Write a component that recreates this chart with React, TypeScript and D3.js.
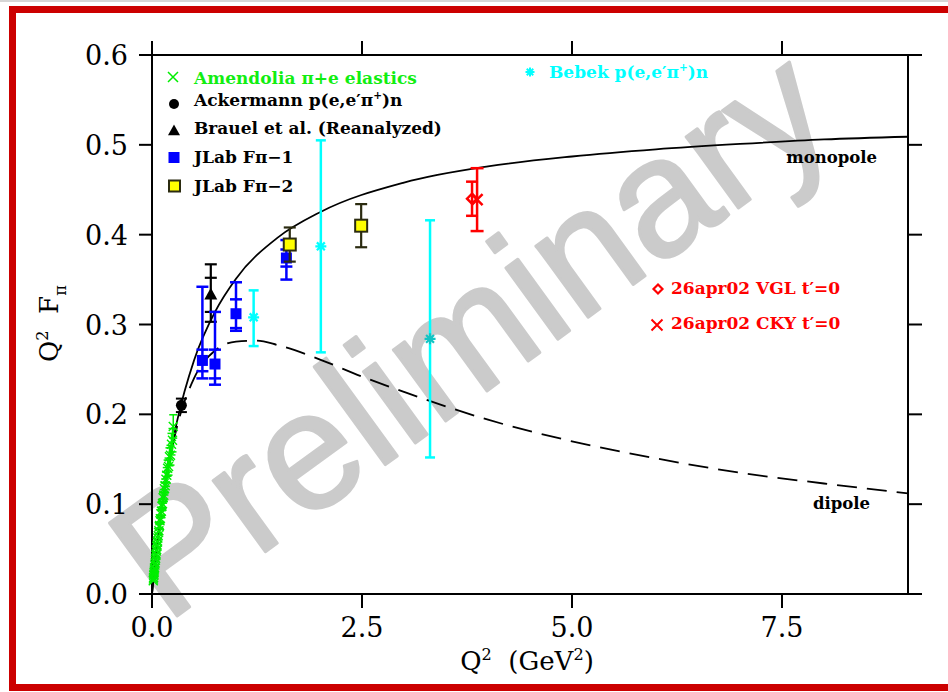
import React, { useRef, useEffect } from "react";
import * as d3 from "d3";

/* model curves */
const monopoleQ2 = [0, 0.05, 0.1, 0.2, 0.3, 0.5, 0.75, 1.0, 1.5, 2.0, 3.0, 4.0, 5.0, 6.0, 7.0, 8.0, 9.0];
const monopoleVal = [0, 0.046, 0.084, 0.146, 0.193, 0.26, 0.314, 0.351, 0.397, 0.425, 0.458, 0.476, 0.487, 0.495, 0.501, 0.506, 0.509];
const dipoleQ2 = [0, 0.05, 0.1, 0.2, 0.3, 0.5, 0.75, 1.0, 1.25, 1.5, 2.0, 2.5, 3.0, 4.0, 5.0, 6.0, 7.0, 8.0, 9.0];
const dipoleVal = [0, 0.046, 0.084, 0.144, 0.187, 0.24, 0.271, 0.281, 0.282, 0.277, 0.261, 0.242, 0.225, 0.194, 0.17, 0.151, 0.135, 0.123, 0.112];

/* Amendolia pi+e elastics */
const amendoliaQ2 = [
  0.015, 0.017, 0.019, 0.021, 0.023, 0.025, 0.027, 0.029, 0.031, 0.034,
  0.037, 0.04, 0.043, 0.046, 0.049, 0.052, 0.055, 0.058, 0.061, 0.064,
  0.067, 0.07, 0.074, 0.078, 0.082, 0.086, 0.09, 0.095, 0.1, 0.106,
  0.112, 0.118, 0.125, 0.132, 0.14, 0.148, 0.157, 0.166, 0.176, 0.186,
  0.197, 0.208, 0.22, 0.232, 0.244, 0.253,
];
const amendoliaVal = [
  0.0147, 0.0166, 0.0183, 0.0205, 0.0219, 0.024, 0.0256, 0.0279, 0.0291, 0.0322,
  0.0345, 0.0376, 0.0397, 0.0428, 0.0446, 0.0478, 0.0495, 0.0528, 0.0546, 0.0577,
  0.0591, 0.0624, 0.0649, 0.0686, 0.0705, 0.0748, 0.0762, 0.0815, 0.0838, 0.0893,
  0.0921, 0.0978, 0.1004, 0.1071, 0.1098, 0.1172, 0.1205, 0.1278, 0.1322, 0.1401,
  0.1418, 0.1527, 0.1545, 0.1668, 0.1712, 0.1865,
];
const amendoliaErr = [
  0.0006, 0.0006, 0.0007, 0.0007, 0.0008, 0.0008, 0.0009, 0.0009, 0.001, 0.001,
  0.0011, 0.0012, 0.0013, 0.0014, 0.0015, 0.0016, 0.0017, 0.0018, 0.0019, 0.002,
  0.0021, 0.0022, 0.0024, 0.0026, 0.0028, 0.003, 0.0032, 0.0035, 0.0038, 0.0042,
  0.0046, 0.005, 0.0055, 0.006, 0.0065, 0.007, 0.0075, 0.008, 0.0085, 0.009,
  0.0095, 0.01, 0.011, 0.012, 0.013, 0.013,
];

/* Ackermann p(e,e'pi+)n */
const ackermannQ2 = [0.35];
const ackermannVal = [0.21];
const ackermannErr = [0.0075];

/* Brauel et al. (reanalyzed) */
const brauelQ2 = [0.7];
const brauelVal = [0.333];
const brauelStat = [0.019];
const brauelUp = [0.034];
const brauelDown = [0.03];

/* JLab Fpi-1 */
const fpi1Q2 = [0.6, 0.75, 1.0, 1.6];
const fpi1Val = [0.26, 0.256, 0.312, 0.374];
const fpi1Stat = [0.012, 0.016, 0.016, 0.0095];
const fpi1Up = [0.082, 0.058, 0.035, 0.02];
const fpi1Down = [0.02, 0.023, 0.019, 0.024];

/* JLab Fpi-2 */
const fpi2Q2 = [1.64, 2.49];
const fpi2Val = [0.389, 0.41];
const fpi2Err = [0.019, 0.024];

/* Bebek p(e,e'pi+)n */
const bebekQ2 = [1.21, 2.01, 3.31];
const bebekVal = [0.308, 0.387, 0.284];
const bebekUp = [0.03, 0.118, 0.132];
const bebekDown = [0.032, 0.118, 0.132];

/* 26apr02 points */
const vglQ2 = [3.81];
const vglVal = [0.44];
const vglErr = [0.019];
const ckyQ2 = [3.87];
const ckyVal = [0.439];
const ckyErr = [0.035];

const xTicks = [0, 2.5, 5, 7.5];
const yTicks = [0, 0.1, 0.2, 0.3, 0.4, 0.5, 0.6];

const SERIF = "'DejaVu Serif', serif";
const GREEN = "#00ee00";
const CYAN = "#00ffff";
const RED = "#ff0000";
const BLUE = "#0000ff";
const OLIVE = "#2b2b10";

type Part = [string, number?];

const crossPath = (s: number) => `M${-s},${-s}L${s},${s}M${-s},${s}L${s},${-s}`;
const starPath = (s: number) =>
  crossPath(s * 0.72) + `M0,${-s}L0,${s}M${-s},0L${s},0`;
const diamondPath = (s: number) => `M0,${-s}L${s},0L0,${s}L${-s},0Z`;
const trianglePath = (s: number) => `M0,${-s * 1.1}L${s},${s * 0.7}L${-s},${s * 0.7}Z`;

const App = () => {
  const svgRef = useRef<SVGSVGElement>(null);

  useEffect(() => {
    const svg = d3.select(svgRef.current);
    svg.selectAll("*").remove();

    const x = d3.scaleLinear().domain([0, 9]).range([152, 908]);
    const y = d3.scaleLinear().domain([0, 0.6]).range([594, 55]);

    /* text with super/subscripts */
    const addText = (
      g: any, tx: number, ty: number, parts: Part[], size: number,
      color: string, weight = "normal", anchor = "start"
    ) => {
      const t = g.append("text")
        .attr("x", tx).attr("y", ty)
        .attr("font-family", SERIF).attr("font-size", size)
        .attr("font-weight", weight).attr("fill", color)
        .attr("text-anchor", anchor)
        .style("white-space", "pre");
      let off = 0;
      parts.forEach(([s, shift]) => {
        const target = (shift || 0) * size * 0.4;
        const ts = t.append("tspan").attr("dy", target - off).text(s);
        if (shift) ts.attr("font-size", size * 0.62);
        off = target;
      });
      return t;
    };

    /* error bar with caps */
    const capLine = (g: any, q: number, v: number, color: string, cap: number, sw: number) => {
      g.append("line")
        .attr("x1", x(q) - cap / 2).attr("x2", x(q) + cap / 2)
        .attr("y1", y(v)).attr("y2", y(v))
        .attr("stroke", color).attr("stroke-width", sw);
    };
    const errBar = (g: any, q: number, lo: number, hi: number, color: string, cap: number, sw: number) => {
      g.append("line")
        .attr("x1", x(q)).attr("x2", x(q))
        .attr("y1", y(lo)).attr("y2", y(hi))
        .attr("stroke", color).attr("stroke-width", sw);
      [lo, hi].forEach((v) => capLine(g, q, v, color, cap, sw));
    };

    /* outer frame */
    svg.append("rect").attr("x", 0).attr("y", 0).attr("width", 948).attr("height", 692).attr("fill", "#fff");
    svg.append("rect").attr("x", 0).attr("y", 0).attr("width", 948).attr("height", 2).attr("fill", "#d6d6d6");
    svg.append("rect")
      .attr("x", 12.5).attr("y", 9.5).attr("width", 960).attr("height", 678)
      .attr("fill", "none").attr("stroke", "#cc0000").attr("stroke-width", 7);

    /* watermark */
    svg.append("text")
      .attr("transform", "translate(166,624) rotate(-36)")
      .attr("font-family", "'Liberation Sans', Arial, sans-serif")
      .attr("font-size", 167)
      .attr("fill", "#cbcbcb").attr("stroke", "#cbcbcb")
      .attr("stroke-width", 3).attr("stroke-linejoin", "round")
      .text("Preliminary");

    /* axes box and ticks */
    const axis = svg.append("g").attr("stroke", "#000").attr("stroke-width", 2);
    axis.append("rect")
      .attr("x", x(0)).attr("y", y(0.6))
      .attr("width", x(9) - x(0)).attr("height", y(0) - y(0.6))
      .attr("fill", "none");
    xTicks.forEach((t) => {
      axis.append("line").attr("x1", x(t)).attr("x2", x(t)).attr("y1", y(0)).attr("y2", y(0) + 14);
      axis.append("line").attr("x1", x(t)).attr("x2", x(t)).attr("y1", y(0.6)).attr("y2", y(0.6) - 14);
    });
    yTicks.forEach((t) => {
      axis.append("line").attr("x1", x(0) - 13).attr("x2", x(0)).attr("y1", y(t)).attr("y2", y(t));
      axis.append("line").attr("x1", x(9)).attr("x2", x(9) + 14).attr("y1", y(t)).attr("y2", y(t));
    });

    const labels = svg.append("g")
      .attr("font-family", SERIF).attr("font-size", 27).attr("fill", "#000");
    xTicks.forEach((t) => {
      labels.append("text").attr("x", x(t)).attr("y", 637)
        .attr("text-anchor", "middle").text(d3.format(".1f")(t));
    });
    yTicks.forEach((t) => {
      labels.append("text").attr("x", 128).attr("y", y(t) + 10)
        .attr("text-anchor", "end").text(d3.format(".1f")(t));
    });

    /* axis titles */
    addText(svg, 527, 670, [["Q"], ["2", -1], ["  (GeV"], ["2", -1], [")"]], 26, "#000", "normal", "middle");
    const yl = svg.append("g").attr("transform", "translate(58,362) rotate(-90)");
    addText(yl, 0, 0, [["Q"], ["2", -1], ["  F"], ["π", 0.8]], 26, "#000");

    /* model curves */
    const line = d3.line<number>()
      .x((_, i) => x(monopoleQ2[i]))
      .y((d) => y(d))
      .curve(d3.curveMonotoneX);
    svg.append("path").datum(monopoleVal)
      .attr("fill", "none").attr("stroke", "#000").attr("stroke-width", 1.8)
      .attr("d", line);
    const dline = d3.line<number>()
      .x((_, i) => x(dipoleQ2[i]))
      .y((d) => y(d))
      .curve(d3.curveMonotoneX);
    svg.append("path").datum(dipoleVal)
      .attr("fill", "none").attr("stroke", "#000").attr("stroke-width", 1.8)
      .attr("stroke-dasharray", "20,10")
      .attr("d", dline);

    addText(svg, 877, 163, [["monopole"]], 16.5, "#000", "bold", "end");
    addText(svg, 870, 509, [["dipole"]], 16.5, "#000", "bold", "end");

    /* Amendolia */
    const gA = svg.append("g");
    amendoliaQ2.forEach((q, i) => {
      const v = amendoliaVal[i];
      const e = amendoliaErr[i] || 0;
      if (e > 0.003) errBar(gA, q, v - e, v + e, GREEN, 8, 1.5);
      gA.append("path")
        .attr("transform", `translate(${x(q)},${y(v)})`)
        .attr("d", crossPath(4.5))
        .attr("stroke", GREEN).attr("stroke-width", 1.4).attr("fill", "none");
    });

    /* Ackermann */
    ackermannQ2.forEach((q, i) => {
      const v = ackermannVal[i];
      errBar(svg, q, v - ackermannErr[i], v + ackermannErr[i], "#000", 11, 2);
      svg.append("circle").attr("cx", x(q)).attr("cy", y(v)).attr("r", 5.5).attr("fill", "#000");
    });

    /* Brauel */
    brauelQ2.forEach((q, i) => {
      const v = brauelVal[i];
      errBar(svg, q, v - brauelDown[i], v + brauelUp[i], "#000", 12, 2.2);
      capLine(svg, q, v - brauelStat[i], "#000", 12, 2.2);
      capLine(svg, q, v + brauelStat[i], "#000", 12, 2.2);
      svg.append("path")
        .attr("transform", `translate(${x(q)},${y(v)})`)
        .attr("d", trianglePath(6.5)).attr("fill", "#000");
    });

    /* JLab Fpi-1 */
    fpi1Q2.forEach((q, i) => {
      const v = fpi1Val[i];
      errBar(svg, q, v - fpi1Down[i], v + fpi1Up[i], BLUE, 12, 2.5);
      capLine(svg, q, v - fpi1Stat[i], BLUE, 12, 2.5);
      capLine(svg, q, v + fpi1Stat[i], BLUE, 12, 2.5);
      svg.append("rect")
        .attr("x", x(q) - 5.5).attr("y", y(v) - 5.5)
        .attr("width", 11).attr("height", 11).attr("fill", BLUE);
    });

    /* JLab Fpi-2 */
    fpi2Q2.forEach((q, i) => {
      const v = fpi2Val[i];
      errBar(svg, q, v - fpi2Err[i], v + fpi2Err[i], OLIVE, 12, 2.2);
      svg.append("rect")
        .attr("x", x(q) - 6).attr("y", y(v) - 6)
        .attr("width", 12).attr("height", 12)
        .attr("fill", "#ffff00").attr("stroke", OLIVE).attr("stroke-width", 2);
    });

    /* Bebek */
    bebekQ2.forEach((q, i) => {
      const v = bebekVal[i];
      errBar(svg, q, v - bebekDown[i], v + bebekUp[i], CYAN, 10, 2.5);
      svg.append("path")
        .attr("transform", `translate(${x(q)},${y(v)})`)
        .attr("d", starPath(5.5))
        .attr("stroke", i === 2 ? "#12c4c4" : CYAN).attr("stroke-width", 2.2).attr("fill", "none");
    });

    /* 26apr02 */
    vglQ2.forEach((q, i) => {
      const v = vglVal[i];
      errBar(svg, q, v - vglErr[i], v + vglErr[i], RED, 12, 2.5);
      svg.append("path")
        .attr("transform", `translate(${x(q)},${y(v)})`)
        .attr("d", diamondPath(5))
        .attr("stroke", RED).attr("stroke-width", 2.5).attr("fill", "none");
    });
    ckyQ2.forEach((q, i) => {
      const v = ckyVal[i];
      errBar(svg, q, v - ckyErr[i], v + ckyErr[i], RED, 13, 2.5);
      svg.append("path")
        .attr("transform", `translate(${x(q)},${y(v)})`)
        .attr("d", crossPath(5.5))
        .attr("stroke", RED).attr("stroke-width", 2.5).attr("fill", "none");
    });

    /* legend */
    const LS = 17;
    const lg = svg.append("g");
    lg.append("path").attr("transform", "translate(173,77)").attr("d", crossPath(5))
      .attr("stroke", GREEN).attr("stroke-width", 1.5).attr("fill", "none");
    addText(lg, 194, 84, [["Amendolia π+e elastics"]], LS, "#11ee11", "bold");

    lg.append("circle").attr("cx", 174).attr("cy", 104).attr("r", 5).attr("fill", "#000");
    addText(lg, 194, 106, [["Ackermann p(e,e′π"], ["+", -1], [")n"]], LS, "#000", "bold");

    lg.append("path").attr("transform", "translate(174,131)").attr("d", trianglePath(6))
      .attr("fill", "#000");
    addText(lg, 194, 134, [["Brauel et al. (Reanalyzed)"]], LS, "#000", "bold");

    lg.append("rect").attr("x", 168.5).attr("y", 152).attr("width", 11).attr("height", 11).attr("fill", BLUE);
    addText(lg, 194, 163, [["JLab Fπ−1"]], LS, "#000", "bold");

    lg.append("rect").attr("x", 169).attr("y", 180.5).attr("width", 11).attr("height", 11)
      .attr("fill", "#ffff00").attr("stroke", OLIVE).attr("stroke-width", 2);
    addText(lg, 194, 191.5, [["JLab Fπ−2"]], LS, "#000", "bold");

    lg.append("path").attr("transform", "translate(530,72)").attr("d", starPath(4.5))
      .attr("stroke", CYAN).attr("stroke-width", 2).attr("fill", "none");
    addText(lg, 549, 78, [["Bebek p(e,e′π"], ["+", -1], [")n"]], LS, CYAN, "bold");

    lg.append("path").attr("transform", "translate(658,289)").attr("d", diamondPath(4.5))
      .attr("stroke", RED).attr("stroke-width", 2.2).attr("fill", "none");
    addText(lg, 671, 294, [["26apr02 VGL t′=0"]], LS, RED, "bold");

    lg.append("path").attr("transform", "translate(657,325)").attr("d", crossPath(5.5))
      .attr("stroke", RED).attr("stroke-width", 2).attr("fill", "none");
    addText(lg, 671, 329, [["26apr02 CKY t′=0"]], LS, RED, "bold");
  }, []);

  return (
    <svg
      ref={svgRef}
      width={948}
      height={692}
      style={{ position: "absolute", left: 0, top: 0 }}
    />
  );
};

export default App;
